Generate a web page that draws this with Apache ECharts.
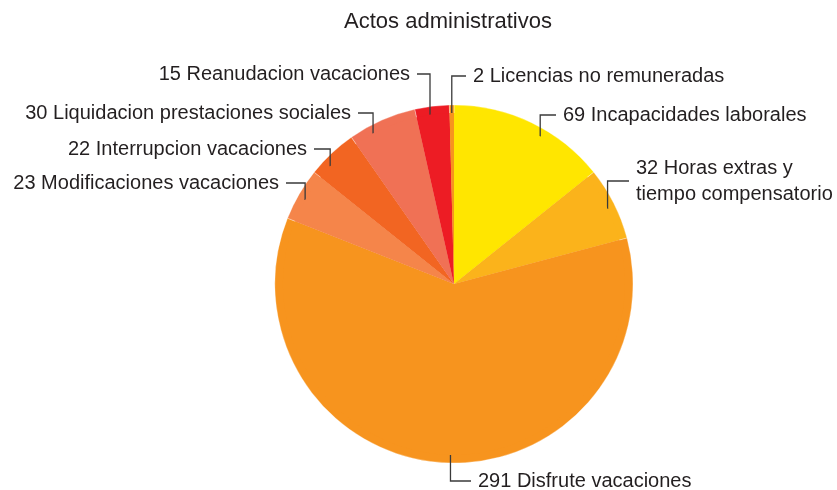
<!DOCTYPE html>
<html>
<head>
<meta charset="utf-8">
<script src="https://cdn.jsdelivr.net/npm/echarts@6/dist/echarts.min.js"></script>
<style>
  html, body { margin: 0; padding: 0; background: #ffffff; }
  #chart { width: 837px; height: 490px; }
</style>
</head>
<body>
<div id="chart"></div>
<script>
// Administrative acts by type, drawn clockwise from 12 o'clock
const categories = [
  'Incapacidades laborales',
  'Horas extras y\ntiempo compensatorio',
  'Disfrute vacaciones',
  'Modificaciones vacaciones',
  'Interrupcion vacaciones',
  'Liquidacion prestaciones sociales',
  'Reanudacion vacaciones',
  'Licencias no remuneradas'
];
const values = [69, 32, 291, 23, 22, 30, 15, 2];
const sliceColors = ['#FFE600', '#FBB31B', '#F7941E', '#F5854A', '#F26522', '#F07155', '#ED1C24', '#F7941E'];

// Label placement: text x, text y (vertical middle), side the text extends toward,
// and where across the slice (0..1 of its sweep) the leader line starts
const labelSpots = [
  [563, 115, 'left', 0.59],
  [636, 181, 'left', 0.53],
  [478, 481, 'left', 0.49],
  [279, 183, 'right', 0.46],
  [307, 149, 'right', 0.30],
  [351, 113, 'right', 0.30],
  [410, 74, 'right', 0.41],
  [473, 76, 'left', 0.5]
];

const CX = 454, CY = 284, R = 179;
const ANCHOR_R = R * 0.955;
const total = values.reduce((a, b) => a + b, 0);

// Point inside a slice, just within its rim
function anchorOf(i, frac) {
  let before = 0;
  for (let k = 0; k < i; k++) before += values[k];
  const a = (before + values[i] * frac) / total * Math.PI * 2;
  return [CX + ANCHOR_R * Math.sin(a), CY - ANCHOR_R * Math.cos(a)];
}

const pieData = categories.map((name, i) => ({
  name: name,
  value: values[i],
  itemStyle: { color: sliceColors[i] }
}));

const chart = echarts.init(document.getElementById('chart'), null, { renderer: 'canvas' });

chart.setOption({
  animation: false,
  backgroundColor: '#ffffff',
  title: {
    text: 'Actos administrativos',
    left: 448,
    top: 11,
    textAlign: 'center',
    padding: 0,
    textStyle: {
      fontFamily: 'Liberation Sans',
      fontWeight: 'normal',
      fontSize: 22,
      color: '#231F20'
    }
  },
  series: [
    {
      // the coloured slices
      type: 'pie',
      z: 2,
      center: [CX, CY],
      radius: R,
      startAngle: 90,
      clockwise: true,
      data: pieData,
      itemStyle: { borderColor: 'rgba(255,255,255,0.6)', borderWidth: 0.5 },
      label: { show: false },
      labelLine: { show: false }
    },
    {
      // invisible inner copy of the slices; its leader lines start just inside the rim
      type: 'pie',
      z: 3,
      silent: true,
      center: [CX, CY],
      radius: ANCHOR_R,
      startAngle: 90,
      clockwise: true,
      avoidLabelOverlap: false,
      data: pieData,
      itemStyle: { color: 'rgba(0,0,0,0)', borderWidth: 0 },
      label: {
        show: true,
        position: 'outside',
        formatter: p => p.value + ' ' + p.name,
        fontFamily: 'Liberation Sans',
        fontSize: 20,
        lineHeight: 26,
        color: '#231F20'
      },
      labelLine: {
        show: true,
        showAbove: true,
        smooth: false,
        lineStyle: { color: '#3A3A3A', width: 1.3 }
      },
      labelLayout: function (params) {
        const i = params.dataIndex;
        const spot = labelSpots[i];
        const a = anchorOf(i, spot[3]);
        const endX = spot[2] === 'left' ? spot[0] - 7 : spot[0] + 7;
        return {
          x: spot[0],
          y: spot[1],
          align: spot[2],
          verticalAlign: 'middle',
          labelLinePoints: [[a[0], a[1]], [a[0], spot[1]], [endX, spot[1]]]
        };
      }
    }
  ]
});
</script>
</body>
</html>
